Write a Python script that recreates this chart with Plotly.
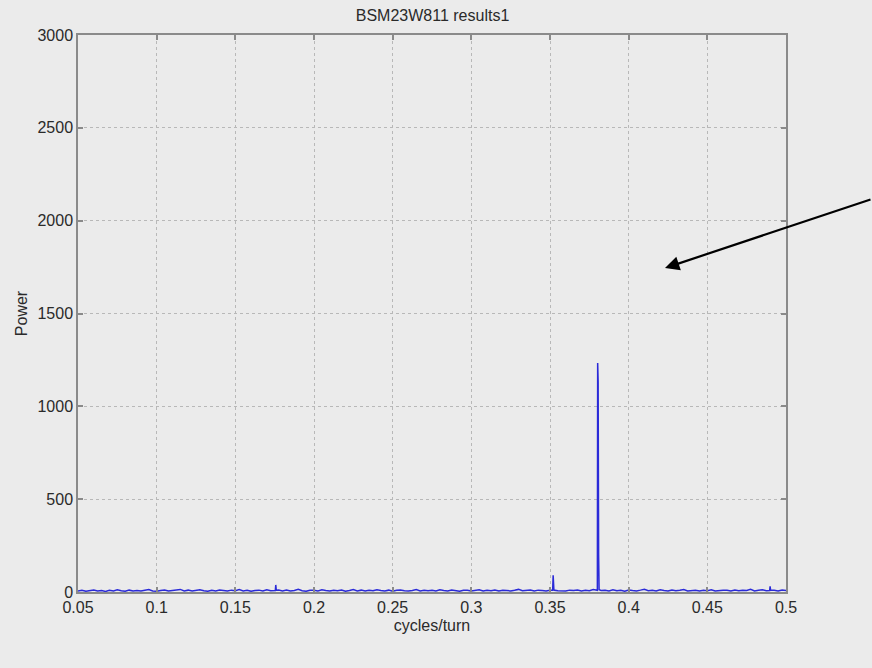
import plotly.graph_objects as go

# Background noise floor sampled every 0.0025 cycles/turn from 0.05 to 0.5 (181 values)
noise_start = 0.05
noise_step = 0.0025
noise_power = [
    # 0.05 - 0.0975
    6, 9, 4, 7, 11, 5, 8, 3, 9, 6, 12, 7, 4, 10, 6, 8, 5, 9, 13, 6,
    # 0.10 - 0.1475
    4, 8, 11, 5, 7, 9, 14, 6, 10, 5, 8, 12, 7, 4, 9, 6, 11, 8, 5, 10,
    # 0.15 - 0.1975
    7, 13, 6, 9, 4, 8, 10, 5, 12, 7, 9, 11, 6, 11, 5, 8, 14, 7, 4, 9,
    # 0.20 - 0.2475
    10, 6, 12, 8, 5, 9, 7, 11, 4, 8, 13, 6, 10, 5, 9, 7, 12, 8, 6, 10,
    # 0.25 - 0.2975
    4, 9, 11, 7, 5, 8, 13, 6, 10, 7, 9, 5, 12, 8, 6, 11, 7, 4, 9, 10,
    # 0.30 - 0.3475
    6, 8, 12, 5, 9, 7, 11, 6, 10, 8, 6, 9, 14, 7, 8, 11, 5, 10, 8, 6,
    # 0.35 - 0.3975
    9, 8, 7, 7, 5, 10, 8, 11, 6, 9, 7, 13, 9, 8, 10, 6, 12, 7, 9, 4,
    # 0.40 - 0.4475
    11, 8, 6, 10, 15, 7, 9, 5, 12, 8, 6, 11, 7, 9, 13, 5, 8, 10, 6, 9,
    # 0.45 - 0.4975
    7, 12, 5, 8, 10, 9, 6, 11, 7, 10, 8, 14, 6, 9, 12, 7, 9, 9, 6, 11,
    # 0.50
    8,
]
# Narrow secondary lines
spike_freq = [0.1754, 0.1757, 0.1760, 0.3517, 0.3520, 0.3523, 0.3526, 0.4896, 0.4899, 0.4902]
spike_power = [8, 38, 10, 9, 90, 52, 10, 8, 30, 9]
# Main tune line near 0.3805 cycles/turn
peak_freq = [0.3801, 0.3803, 0.3806, 0.3809, 0.3812]
peak_power = [9, 1233, 1131, 200, 12]

x_ticks = [0.05, 0.1, 0.15, 0.2, 0.25, 0.3, 0.35, 0.4, 0.45, 0.5]
x_tick_text = ["0.05", "0.1", "0.15", "0.2", "0.25", "0.3", "0.35", "0.4", "0.45", "0.5"]
y_ticks = [0, 500, 1000, 1500, 2000, 2500, 3000]

freqs = [noise_start + i * noise_step for i in range(len(noise_power))]
pts = sorted(list(zip(freqs, noise_power))
             + list(zip(spike_freq, spike_power))
             + list(zip(peak_freq, peak_power)))
xs = [p[0] for p in pts]
ys = [p[1] for p in pts]

BG = "#ebebeb"
AX = "#8a8a8a"
GRID = "#b8b8b8"
TXT = "#2a2a2a"
FONT = "Liberation Sans, Arial, sans-serif"

fig = go.Figure()
fig.add_trace(go.Scatter(x=xs, y=ys, mode="lines",
                         line=dict(color="#2a2ad8", width=1.5),
                         showlegend=False, hoverinfo="skip"))

axis_common = dict(showline=True, linecolor=AX, linewidth=1.5, mirror="allticks",
                   ticks="inside", ticklen=5, tickcolor=AX, tickwidth=1.5,
                   showgrid=True, gridcolor=GRID, griddash="dot", gridwidth=1,
                   zeroline=False, tickfont=dict(size=16, color=TXT, family=FONT))

fig.update_xaxes(range=[0.05, 0.5], tickvals=x_ticks, ticktext=x_tick_text,
                 title=dict(text="cycles/turn", font=dict(size=16, color=TXT, family=FONT), standoff=5),
                 **axis_common)
fig.update_yaxes(range=[0, 3000], tickvals=y_ticks,
                 title=dict(text="Power", font=dict(size=16, color=TXT, family=FONT), standoff=6),
                 **axis_common)

fig.add_annotation(x=0.4231, y=1745, xref="x", yref="y", text="",
                   showarrow=True, arrowhead=2, arrowsize=1.3, arrowwidth=2.2,
                   arrowcolor="black", ax=210, ay=-69, axref="pixel", ayref="pixel")

fig.update_layout(
    width=872, height=668,
    margin=dict(l=78, r=86, t=35, b=76),
    paper_bgcolor=BG, plot_bgcolor=BG,
    font=dict(family=FONT, size=16, color=TXT),
    title=dict(text="BSM23W811 results1", x=0.496, xanchor="center",
               y=1 - 15 / 668, yanchor="middle", font=dict(size=16, color=TXT, family=FONT)),
)

fig.write_html(
    "out.html",
    config={"displayModeBar": False},
    post_script="document.body.style.margin='0';document.body.style.background='#ebebeb';",
)
